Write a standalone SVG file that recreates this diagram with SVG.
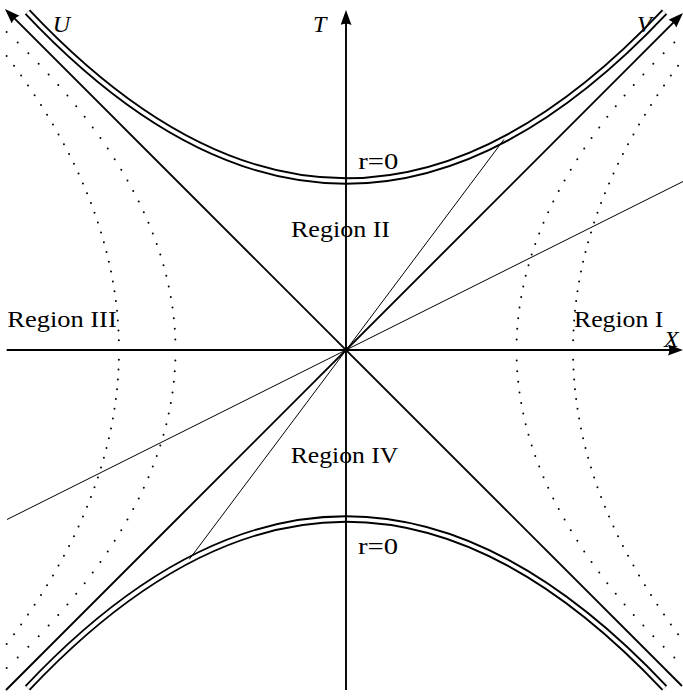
<svg xmlns="http://www.w3.org/2000/svg" width="683" height="696" viewBox="0 0 683 696">
<style>
  .bg { fill: #ffffff; }
  .dblo { fill: none; stroke: #000; stroke-width: 7.4; stroke-linecap: butt; }
  .dbli { fill: none; stroke: #fff; stroke-width: 3.6; stroke-linecap: butt; }
  .axis { fill: none; stroke: #000; stroke-width: 1.9; marker-end: url(#arr); }
  .thin { fill: none; stroke: #000; stroke-width: 1.0; }
  .dots { fill: none; stroke: none; marker-start: url(#dot); marker-mid: url(#dot); marker-end: url(#dot); }
  .lbl { font-family: "Liberation Serif", "Times New Roman", serif; font-size: 24px; fill: #000; }
  .ax { font-family: "Liberation Serif", "Times New Roman", serif; font-size: 24px; font-style: italic; fill: #000; }
</style>
<defs>
  <marker id="arr" markerWidth="18" markerHeight="12" refX="8" refY="5.5" orient="auto" markerUnits="userSpaceOnUse">
    <path d="M0,0 L15,5.5 L0,11 Q2.5,5.5 0,0 Z" fill="#000"/>
  </marker>
  <marker id="dot" markerWidth="4" markerHeight="4" refX="2" refY="2" markerUnits="userSpaceOnUse">
    <circle cx="2" cy="2" r="1.0" fill="#000"/>
  </marker>
</defs>
<rect class="bg" x="0" y="0" width="683" height="696"/>

<g id="dotted-curves">
  <polyline class="dots" points="685.38,32 674.31,42.6 663.61,53.2 653.29,63.8 643.35,74.4 633.77,85 624.58,95.6 615.76,106.2 607.32,116.8 599.25,127.4 591.56,138 584.24,148.6 577.3,159.2 570.73,169.8 564.54,180.4 558.72,191 553.28,201.6 548.21,212.2 543.52,222.8 539.2,233.4 535.26,244 531.7,254.6 528.51,265.2 525.69,275.8 523.26,286.4 521.19,297 519.5,307.6 518.19,318.2 517.25,328.8 516.69,339.4 516.5,350 516.69,360.6 517.25,371.2 518.19,381.8 519.5,392.4 521.19,403 523.26,413.6 525.69,424.2 528.51,434.8 531.7,445.4 535.26,456 539.2,466.6 543.52,477.2 548.21,487.8 553.28,498.4 558.72,509 564.54,519.6 570.73,530.2 577.3,540.8 584.24,551.4 591.56,562 599.25,572.6 607.32,583.2 615.76,593.8 624.58,604.4 633.77,615 643.35,625.6 653.29,636.2 663.61,646.8 674.31,657.4 685.38,668"/>
  <polyline class="dots" points="6.62,32 17.69,42.6 28.39,53.2 38.71,63.8 48.65,74.4 58.23,85 67.42,95.6 76.24,106.2 84.68,116.8 92.75,127.4 100.44,138 107.76,148.6 114.7,159.2 121.27,169.8 127.46,180.4 133.28,191 138.72,201.6 143.79,212.2 148.48,222.8 152.8,233.4 156.74,244 160.3,254.6 163.49,265.2 166.31,275.8 168.74,286.4 170.81,297 172.5,307.6 173.81,318.2 174.75,328.8 175.31,339.4 175.5,350 175.31,360.6 174.75,371.2 173.81,381.8 172.5,392.4 170.81,403 168.74,413.6 166.31,424.2 163.49,434.8 160.3,445.4 156.74,456 152.8,466.6 148.48,477.2 143.79,487.8 138.72,498.4 133.28,509 127.46,519.6 121.27,530.2 114.7,540.8 107.76,551.4 100.44,562 92.75,572.6 84.68,583.2 76.24,593.8 67.42,604.4 58.23,615 48.65,625.6 38.71,636.2 28.39,646.8 17.69,657.4 6.62,668"/>
  <polyline class="dots" points="685.37,56 678,65.8 670.88,75.6 664.02,85.4 657.4,95.2 651.03,105 644.92,114.8 639.05,124.6 633.43,134.4 628.06,144.2 622.94,154 618.07,163.8 613.45,173.6 609.08,183.4 604.96,193.2 601.09,203 597.47,212.8 594.1,222.6 590.98,232.4 588.11,242.2 585.49,252 583.11,261.8 580.99,271.6 579.12,281.4 577.49,291.2 576.12,301 575,310.8 574.12,320.6 573.5,330.4 573.12,340.2 573,350 573.12,359.8 573.5,369.6 574.12,379.4 575,389.2 576.12,399 577.49,408.8 579.12,418.6 580.99,428.4 583.11,438.2 585.49,448 588.11,457.8 590.98,467.6 594.1,477.4 597.47,487.2 601.09,497 604.96,506.8 609.08,516.6 613.45,526.4 618.07,536.2 622.94,546 628.06,555.8 633.43,565.6 639.05,575.4 644.92,585.2 651.03,595 657.4,604.8 664.02,614.6 670.88,624.4 678,634.2 685.37,644"/>
  <polyline class="dots" points="6.63,56 14,65.8 21.12,75.6 27.98,85.4 34.6,95.2 40.97,105 47.08,114.8 52.95,124.6 58.57,134.4 63.94,144.2 69.06,154 73.93,163.8 78.55,173.6 82.92,183.4 87.04,193.2 90.91,203 94.53,212.8 97.9,222.6 101.02,232.4 103.89,242.2 106.51,252 108.89,261.8 111.01,271.6 112.88,281.4 114.51,291.2 115.88,301 117,310.8 117.88,320.6 118.5,330.4 118.88,340.2 119,350 118.88,359.8 118.5,369.6 117.88,379.4 117,389.2 115.88,399 114.51,408.8 112.88,418.6 111.01,428.4 108.89,438.2 106.51,448 103.89,457.8 101.02,467.6 97.9,477.4 94.53,487.2 90.91,497 87.04,506.8 82.92,516.6 78.55,526.4 73.93,536.2 69.06,546 63.94,555.8 58.57,565.6 52.95,575.4 47.08,585.2 40.97,595 34.6,604.8 27.98,614.6 21.12,624.4 14,634.2 6.63,644"/>
</g>

<g id="singularity-top">
  <path class="dblo" d="M27.5,12 Q346,350 664.5,12"/>
  <path class="dbli" d="M27.5,12 Q346,350 664.5,12"/>
</g>
<g id="singularity-bottom">
  <path class="dblo" d="M27.5,688 Q346,350 664.5,688"/>
  <path class="dbli" d="M27.5,688 Q346,350 664.5,688"/>
</g>

<g id="connectors">
  <path class="axis" d="M6.7,350 L676,350"/>
  <path class="axis" d="M346,690 L346,17"/>
  <path class="axis" d="M682,686 L9.95,13.95"/>
  <path class="axis" d="M6,690 L678.05,17.95"/>
  <path class="thin" d="M189.3,559.3 L504,139.4"/>
  <path class="thin" d="M7,519.5 L683,181.5"/>
</g>

<g id="label-T"><text class="ax" x="313" y="31.7">T</text></g>
<g id="label-U"><text class="ax" x="52.7" y="32">U</text></g>
<g id="label-V"><text class="ax" x="637" y="31.7">V</text></g>
<g id="label-X"><text class="ax" x="664" y="346.7">X</text></g>
<g id="label-r0-top"><text class="lbl" x="358.3" y="169.3" textLength="40" lengthAdjust="spacingAndGlyphs">r=0</text></g>
<g id="label-r0-bottom"><text class="lbl" x="358" y="554" textLength="40" lengthAdjust="spacingAndGlyphs">r=0</text></g>
<g id="region-II"><text class="lbl" x="291" y="236.7" textLength="99" lengthAdjust="spacingAndGlyphs">Region II</text></g>
<g id="region-IV"><text class="lbl" x="290.7" y="463.3" textLength="107.6" lengthAdjust="spacingAndGlyphs">Region IV</text></g>
<g id="region-I"><text class="lbl" x="574" y="326.7" textLength="89.3" lengthAdjust="spacingAndGlyphs">Region I</text></g>
<g id="region-III"><text class="lbl" x="7.3" y="326.7" textLength="109.4" lengthAdjust="spacingAndGlyphs">Region III</text></g>
</svg>
